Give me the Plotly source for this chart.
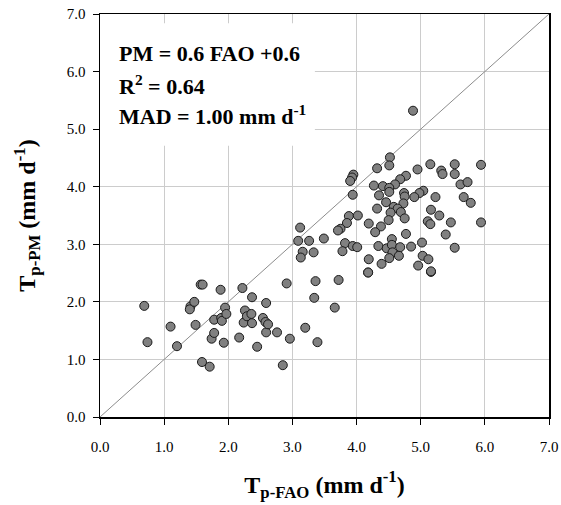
import plotly.graph_objects as go

# Lower cluster
fao_low = [0.69, 0.74, 1.10, 1.20, 1.41, 1.40, 1.47, 1.49, 1.57, 1.60, 1.59, 1.71, 1.74, 1.78,
           1.78, 1.88, 1.89, 1.90, 1.95, 1.97, 1.93, 2.17, 2.22, 2.26, 2.24, 2.29, 2.36, 2.37,
           2.37, 2.45, 2.54, 2.59, 2.59, 2.58, 2.62, 2.76, 2.85, 2.91, 2.96, 3.20, 3.36, 3.34,
           3.39, 3.72, 3.66, 4.18, 5.16]
pm_low = [1.93, 1.30, 1.57, 1.23, 1.92, 1.87, 2.00, 1.60, 2.30, 2.30, 0.955, 0.874, 1.36, 1.46,
          1.69, 2.21, 1.72, 1.67, 1.90, 1.79, 1.29, 1.38, 2.24, 1.85, 1.64, 1.75, 1.79, 2.08,
          1.63, 1.22, 1.72, 1.98, 1.47, 1.65, 1.61, 1.47, 0.90, 2.32, 1.36, 1.55, 2.36, 2.07,
          1.30, 2.38, 1.90, 2.51, 2.52]

# Upper cluster
fao_up = [4.52, 4.51, 4.32, 5.15, 5.53, 5.94, 4.95, 5.32, 5.34, 5.53, 3.95, 3.93, 3.90, 4.77,
          4.68, 4.60, 4.27, 4.41, 4.51, 4.51, 5.62, 5.73, 3.94, 4.35, 4.74, 4.75, 5.04, 4.98,
          4.90, 5.23, 5.67, 5.78, 4.46, 4.73, 4.58, 4.64, 4.32, 4.53, 4.69, 5.16, 5.29, 4.50,
          4.75, 5.11, 5.15, 5.47, 5.94, 3.88, 4.02, 3.85, 3.75, 3.71, 4.19, 4.38, 4.29, 4.77,
          5.39, 3.12, 3.09, 3.26, 3.49, 3.16, 3.13, 3.33, 3.82, 3.78, 3.94, 4.01, 4.34, 4.47,
          4.55, 4.55, 4.68, 4.85, 5.02, 4.56, 4.66, 4.51, 4.19, 4.39, 5.03, 5.12, 4.96, 5.16,
          5.53, 4.18, 4.88]
pm_up = [4.51, 4.37, 4.32, 4.39, 4.39, 4.38, 4.30, 4.28, 4.22, 4.22, 4.21, 4.16, 4.10, 4.19,
         4.13, 4.04, 4.02, 4.01, 3.98, 3.91, 4.04, 4.08, 3.86, 3.85, 3.89, 3.83, 3.93, 3.89,
         3.82, 3.82, 3.82, 3.72, 3.73, 3.71, 3.65, 3.62, 3.62, 3.55, 3.56, 3.60, 3.50, 3.42,
         3.45, 3.40, 3.35, 3.38, 3.38, 3.49, 3.50, 3.37, 3.27, 3.24, 3.36, 3.31, 3.21, 3.18,
         3.17, 3.29, 3.06, 3.06, 3.10, 2.87, 2.77, 2.86, 3.02, 2.88, 2.97, 2.95, 2.97, 2.93,
         3.09, 2.99, 2.95, 2.96, 3.03, 2.86, 2.80, 2.76, 2.74, 2.66, 2.80, 2.74, 2.63, 2.53,
         2.94, 2.51, 5.32]

fao = fao_low + fao_up
pm = pm_low + pm_up

ticks = [0, 1, 2, 3, 4, 5, 6, 7]
tick_text = ["0.0", "1.0", "2.0", "3.0", "4.0", "5.0", "6.0", "7.0"]

FONT = "Liberation Serif, Times New Roman, serif"

fig = go.Figure()

# 1:1 line
fig.add_trace(go.Scatter(x=[0, 7], y=[0, 7], mode="lines",
                         line=dict(color="#8c8c8c", width=1), hoverinfo="skip",
                         showlegend=False))

fig.add_trace(go.Scatter(x=fao, y=pm, mode="markers",
                         marker=dict(size=9, color="#808080",
                                     line=dict(color="#1a1a1a", width=1)),
                         showlegend=False))

# white box behind the statistics text
fig.add_shape(type="rect", xref="x", yref="y", x0=0.0, x1=3.35, y0=4.71, y1=6.84,
              fillcolor="white", line=dict(width=0), layer="between")

stats = ["<b>PM = 0.6 FAO +0.6</b>",
         "<b>R<sup>2</sup> = 0.64</b>",
         "<b>MAD = 1.00 mm d<sup>-1</sup></b>"]
stat_y = [6.31, 5.76, 5.24]
for txt, yy in zip(stats, stat_y):
    fig.add_annotation(x=0.265, y=yy, xref="x", yref="y", text=txt, showarrow=False,
                       xanchor="left", yanchor="middle",
                       font=dict(family=FONT, size=22, color="black"))

axis_common = dict(range=[0, 7], tickvals=ticks, ticktext=tick_text,
                   showgrid=True, gridcolor="#cccccc", gridwidth=1,
                   showline=True, linecolor="black", linewidth=1.5, mirror=True,
                   ticks="outside", ticklen=6, tickcolor="black", tickwidth=1,
                   zeroline=False, fixedrange=True, automargin=False,
                   ticklabeloverflow="allow",
                   tickfont=dict(family=FONT, size=15, color="black"))

fig.update_xaxes(**axis_common, ticklabelstandoff=9,
                 title=dict(text="<b>T<sub>p-FAO</sub> (mm d<sup>-1</sup>)</b>",
                            font=dict(family=FONT, size=24, color="black"), standoff=22))
fig.update_yaxes(**axis_common, ticklabelstandoff=4,
                 title=dict(text="<b>T<sub>p-PM</sub> (mm d<sup>-1</sup>)</b>",
                            font=dict(family=FONT, size=24, color="black"), standoff=24))

fig.update_layout(width=561, height=505,
                  margin=dict(l=100, r=12, t=14, b=88),
                  paper_bgcolor="white", plot_bgcolor="white",
                  font=dict(family=FONT, color="black"))

# remove the default page margin so the figure fills the window exactly
fig.write_html("out.html",
               config={"displayModeBar": False, "staticPlot": True},
               post_script="document.body.style.margin='0';"
                           "document.body.style.overflow='hidden';")
